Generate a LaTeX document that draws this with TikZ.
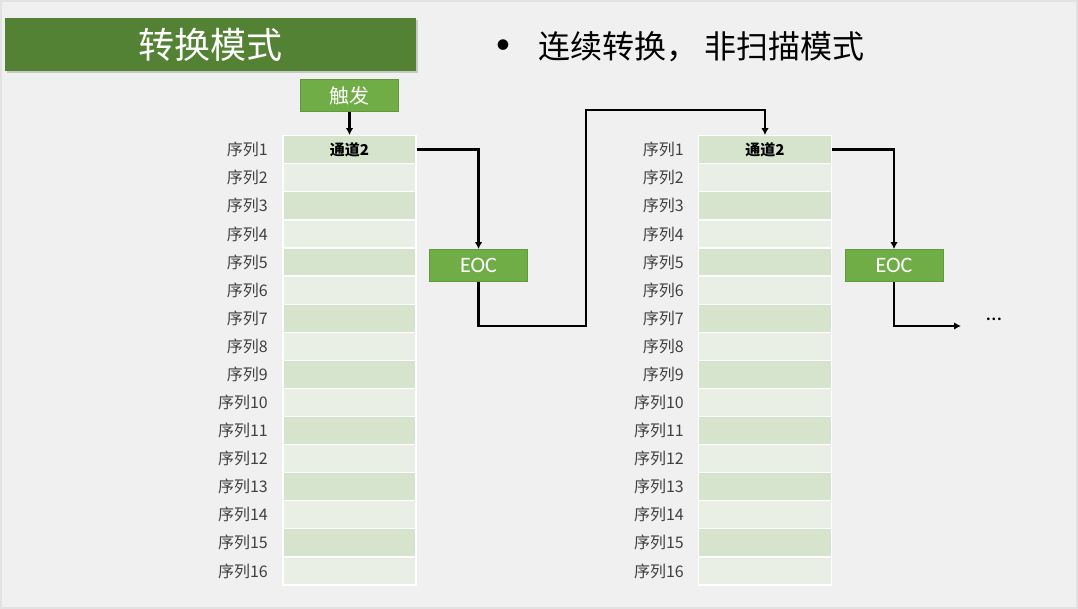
\documentclass[tikz,border=0pt]{standalone}
\usepackage{fontspec}
\setmainfont{Noto Sans CJK SC}
\newfontfamily\latfont{Carlito}
\usetikzlibrary{shadows,arrows.meta}
\definecolor{bgc}{HTML}{F0F0F0}
\definecolor{framec}{HTML}{E2E2E2}
\definecolor{titlegreen}{HTML}{548235}
\definecolor{boxgreen}{HTML}{70AD47}
\definecolor{boxedge}{HTML}{62993D}
\definecolor{rowdark}{HTML}{D7E4CD}
\definecolor{rowlight}{HTML}{E9EFE5}
\definecolor{labelc}{HTML}{404040}
\tikzset{
  greenbox/.style={fill=boxgreen, draw=boxedge, line width=0.8pt, text=white, minimum width=98pt, minimum height=32pt, inner sep=0pt},
  cellbox/.style={draw=white, line width=1.2pt, minimum width=133pt, minimum height=28.08pt, inner sep=0pt},
  seqlabel/.style={anchor=east, text=labelc, font=\fontsize{16}{18}\selectfont, inner sep=0pt},
  conn/.style={line width=2.8pt, black},
  arr/.style={conn, -{Latex[length=7pt,width=7.5pt]}},
}
\begin{document}
\begin{tikzpicture}[x=1pt,y=-1pt]
\useasboundingbox (0,0) rectangle (1078,609);
\fill[bgc] (0,0) rectangle (1078,609);
\draw[framec, line width=2pt] (1,1) rectangle (1077,608);
% title
\node[fill=titlegreen, minimum width=411pt, minimum height=53pt, inner sep=0pt,
      drop shadow={opacity=0.35, shadow xshift=1.5pt, shadow yshift=-2pt},
      text=white, font=\fontsize{36}{40}\selectfont] (title) at (210.5,44.5) {转换模式};
% bullet
\node[font=\latfont\fontsize{30}{34}\selectfont, inner sep=0pt] (bul) at (503,47) {•};
\node[anchor=west, font=\fontsize{32}{36}\selectfont, inner sep=0pt] (sub) at (538,47) {连续转换，\hspace{6pt}非扫描模式};
% trigger
\node[greenbox, font=\fontsize{20}{24}\selectfont] (trig) at (349.5,95.5) {触发};
% tables
\foreach \i in {1,...,16}{
  \pgfmathsetmacro{\yy}{135.7+(\i-1)*28.08+14.04}
  \pgfmathtruncatemacro{\odd}{mod(\i,2)}
  \ifnum\odd=1 \def\rc{rowdark}\else\def\rc{rowlight}\fi
  \node[cellbox, fill=\rc] (L\i) at (349.5,\yy) {};
  \node[cellbox, fill=\rc] (R\i) at (765,\yy) {};
  \node[seqlabel] (LL\i) at (268,\yy) {序列\i};
  \node[seqlabel] (RL\i) at (684,\yy) {序列\i};
}
\node[font=\fontsize{15}{17}\selectfont\bfseries] (ch1) at (L1) {通道2};
\node[font=\fontsize{15}{17}\selectfont\bfseries] (ch2) at (R1) {通道2};
% EOC boxes
\node[greenbox, font=\latfont\fontsize{22}{26}\selectfont] (eoc1) at (478.5,265.5) {EOC};
\node[greenbox, font=\latfont\fontsize{22}{26}\selectfont] (eoc2) at (894,265.5) {EOC};
\coordinate (c1) at (586,326);
\coordinate (c2) at (586,110);
\coordinate (c3) at (961,326);
% connectors
\draw[arr] (trig.south) -- (L1.north);
\draw[arr] (L1.east) -| (eoc1.north);
\draw[arr] (eoc1.south) |- (c1) -- (c2) -| (R1.north);
\draw[arr] (R1.east) -| (eoc2.north);
\draw[arr] (eoc2.south) |- (c3);
\node[font=\latfont\fontsize{22}{26}\selectfont, inner sep=0pt] (dots) at (994,319) {…};
\end{tikzpicture}
\end{document}
